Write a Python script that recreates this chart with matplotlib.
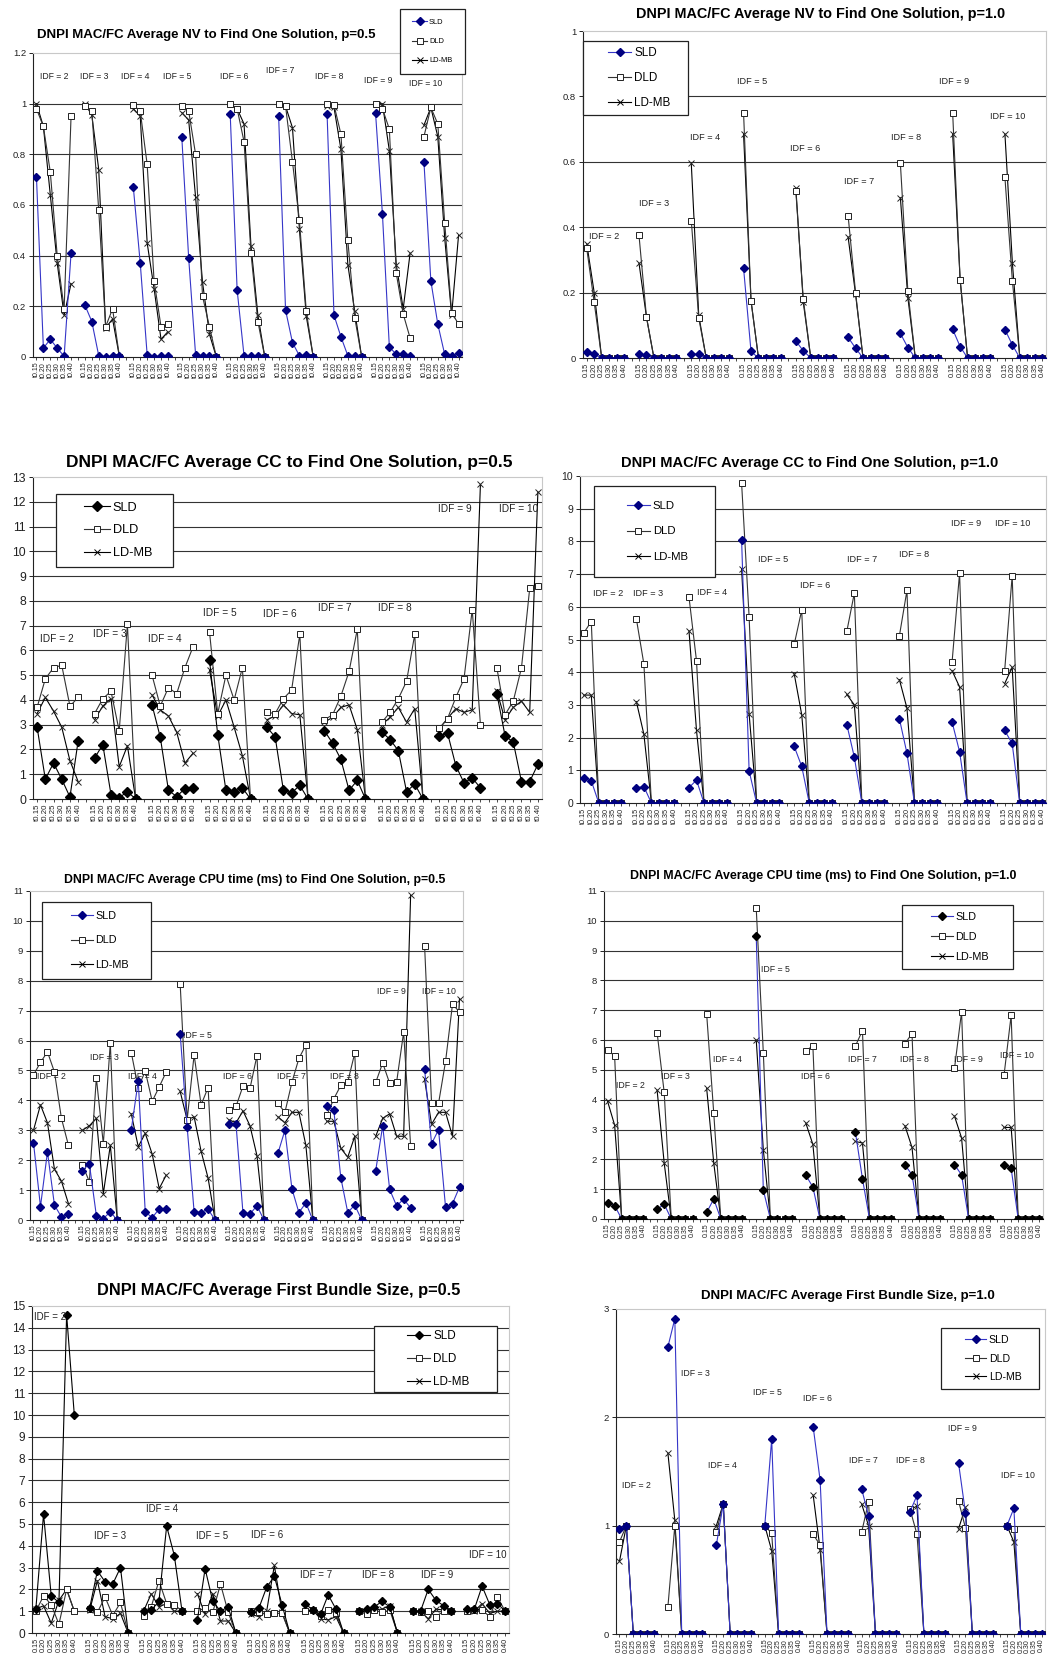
import numpy as np
import matplotlib
matplotlib.use('Agg')
import matplotlib.pyplot as plt
from matplotlib.patches import Rectangle
from matplotlib.lines import Line2D

plt.rcParams['font.family'] = ['Liberation Sans', 'DejaVu Sans']

W, H = 1048, 1655

thresholds = ['0.15', '0.20', '0.25', '0.30', '0.35', '0.40']
idf_names = ['IDF = 2', 'IDF = 3', 'IDF = 4', 'IDF = 5', 'IDF = 6',
             'IDF = 7', 'IDF = 8', 'IDF = 9', 'IDF = 10']
series_names = ['SLD', 'DLD', 'LD-MB']

# ---------------- NV, p=0.5 ----------------
nv05_sld = [[0.71, 0.035, 0.07, 0.035, 0.003, 0.41],
            [0.205, 0.14, 0.005, 0.0, 0.003, 0.003],
            [0.67, 0.37, 0.008, 0.0, 0.005, 0.005],
            [0.87, 0.39, 0.008, 0.005, 0.005, 0.0],
            [0.96, 0.265, 0.005, 0.005, 0.005, 0.0],
            [0.95, 0.185, 0.057, 0.005, 0.008, 0.0],
            [0.96, 0.165, 0.08, 0.005, 0.005, 0.0],
            [0.965, 0.565, 0.04, 0.01, 0.01, 0.005],
            [0.77, 0.30, 0.13, 0.01, 0.005, 0.015]]
nv05_dld = [[0.98, 0.91, 0.73, 0.40, 0.19, 0.95],
            [0.99, 0.97, 0.58, 0.12, 0.19, 0.0],
            [0.995, 0.97, 0.76, 0.30, 0.12, 0.13],
            [0.99, 0.97, 0.80, 0.24, 0.12, 0.0],
            [1.0, 0.98, 0.85, 0.41, 0.14, 0.0],
            [1.0, 0.99, 0.77, 0.54, 0.18, 0.0],
            [1.0, 0.995, 0.88, 0.46, 0.155, 0.0],
            [1.0, 0.98, 0.90, 0.33, 0.17, 0.075],
            [0.87, 0.985, 0.92, 0.53, 0.175, 0.13]]
nv05_ldmb = [[1.0, 0.91, 0.64, 0.37, 0.165, 0.29],
             [1.0, 0.955, 0.74, 0.115, 0.15, 0.0],
             [0.98, 0.95, 0.45, 0.27, 0.07, 0.10],
             [0.965, 0.935, 0.63, 0.295, 0.09, 0.0],
             [1.0, 0.98, 0.92, 0.44, 0.165, 0.0],
             [1.0, 0.99, 0.905, 0.505, 0.16, 0.0],
             [0.99, 0.985, 0.82, 0.365, 0.18, 0.0],
             [1.0, 1.0, 0.815, 0.365, 0.19, 0.41],
             [0.915, 0.985, 0.87, 0.47, 0.165, 0.48]]

# ---------------- NV, p=1.0 ----------------
nv10_sld = [[0.017, 0.012, 0, 0, 0, 0], [0.012, 0.008, 0, 0, 0, 0],
            [0.012, 0.012, 0, 0, 0, 0], [0.275, 0.02, 0, 0, 0, 0],
            [0.052, 0.022, 0, 0, 0, 0], [0.063, 0.03, 0, 0, 0, 0],
            [0.075, 0.032, 0, 0, 0, 0], [0.088, 0.035, 0, 0, 0, 0],
            [0.087, 0.04, 0, 0, 0, 0]]
nv10_dld = [[0.335, 0.17, 0, 0, 0, 0], [0.375, 0.125, 0, 0, 0, 0],
            [0.42, 0.122, 0, 0, 0, 0], [0.75, 0.175, 0, 0, 0, 0],
            [0.51, 0.18, 0, 0, 0, 0], [0.435, 0.2, 0, 0, 0, 0],
            [0.595, 0.205, 0, 0, 0, 0], [0.75, 0.24, 0, 0, 0, 0],
            [0.552, 0.235, 0, 0, 0, 0]]
nv10_ldmb = [[0.35, 0.20, 0, 0, 0, 0], [0.29, 0.125, 0, 0, 0, 0],
             [0.595, 0.13, 0, 0, 0, 0], [0.685, 0.175, 0, 0, 0, 0],
             [0.52, 0.17, 0, 0, 0, 0], [0.37, 0.195, 0, 0, 0, 0],
             [0.49, 0.185, 0, 0, 0, 0], [0.685, 0.24, 0, 0, 0, 0],
             [0.685, 0.29, 0, 0, 0, 0]]

# ---------------- CC, p=0.5 ----------------
cc05_sld = [[2.9, 0.8, 1.45, 0.8, 0.08, 2.35],
            [1.65, 2.2, 0.18, 0.05, 0.3, 0.0],
            [3.8, 2.5, 0.35, 0.1, 0.42, 0.45],
            [5.6, 2.6, 0.35, 0.3, 0.45, 0.0],
            [2.9, 2.5, 0.35, 0.25, 0.55, 0.0],
            [2.75, 2.25, 1.6, 0.35, 0.75, 0.0],
            [2.7, 2.4, 1.95, 0.3, 0.6, 0.0],
            [2.55, 2.65, 1.35, 0.65, 0.85, 0.45],
            [4.25, 2.55, 2.3, 0.7, 0.7, 1.4]]
cc05_dld = [[3.7, 4.85, 5.3, 5.4, 3.75, 4.1],
            [3.45, 4.05, 4.35, 2.75, 7.05, 0.0],
            [5.0, 3.75, 4.5, 4.25, 5.3, 6.15],
            [6.75, 3.45, 5.0, 4.0, 5.3, 0.0],
            [3.5, 3.45, 4.05, 4.4, 6.65, 0.0],
            [3.2, 3.4, 4.15, 5.15, 6.85, 0.0],
            [3.1, 3.5, 4.05, 4.75, 6.65, 0.0],
            [2.85, 3.25, 4.1, 4.85, 7.65, 3.0],
            [5.3, 3.4, 3.95, 5.3, 8.5, 8.6]]
cc05_ldmb = [[3.45, 4.1, 3.55, 2.9, 1.55, 0.7],
             [3.2, 3.75, 4.05, 1.3, 2.15, 0.0],
             [4.2, 3.6, 3.35, 2.7, 1.45, 1.85],
             [5.2, 3.35, 4.0, 2.9, 1.75, 0.0],
             [3.2, 3.35, 3.8, 3.45, 3.4, 0.0],
             [3.1, 3.3, 3.7, 3.8, 2.8, 0.0],
             [3.0, 3.3, 3.7, 3.1, 3.65, 0.0],
             [2.85, 3.25, 3.65, 3.5, 3.6, 12.7],
             [4.35, 3.2, 3.7, 3.95, 3.5, 12.4]]

# ---------------- CC, p=1.0 ----------------
cc10_sld = [[0.75, 0.68, 0, 0, 0, 0], [0.47, 0.5, 0, 0, 0, 0],
            [0.47, 0.7, 0, 0, 0, 0], [8.05, 0.98, 0, 0, 0, 0],
            [1.73, 1.12, 0, 0, 0, 0], [2.4, 1.4, 0, 0, 0, 0],
            [2.57, 1.52, 0, 0, 0, 0], [2.48, 1.57, 0, 0, 0, 0],
            [2.22, 1.82, 0, 0, 0, 0]]
cc10_dld = [[5.2, 5.55, 0, 0, 0, 0], [5.63, 4.25, 0, 0, 0, 0],
            [6.3, 4.35, 0, 0, 0, 0], [9.78, 5.7, 0, 0, 0, 0],
            [4.85, 5.9, 0, 0, 0, 0], [5.25, 6.42, 0, 0, 0, 0],
            [5.12, 6.5, 0, 0, 0, 0], [4.3, 7.03, 0, 0, 0, 0],
            [4.05, 6.95, 0, 0, 0, 0]]
cc10_ldmb = [[3.3, 3.3, 0, 0, 0, 0], [3.1, 2.1, 0, 0, 0, 0],
             [5.27, 2.22, 0, 0, 0, 0], [7.17, 2.72, 0, 0, 0, 0],
             [3.95, 2.7, 0, 0, 0, 0], [3.32, 3.0, 0, 0, 0, 0],
             [3.77, 2.9, 0, 0, 0, 0], [4.05, 3.55, 0, 0, 0, 0],
             [3.65, 4.15, 0, 0, 0, 0]]

# ---------------- CPU, p=0.5 ----------------
cpu05_sld = [[2.58, 0.45, 2.28, 0.5, 0.1, 0.2],
             [1.65, 1.88, 0.15, 0.05, 0.27, 0.0],
             [3.02, 4.65, 0.27, 0.08, 0.37, 0.38],
             [6.23, 3.12, 0.27, 0.25, 0.36, 0.0],
             [3.2, 3.2, 0.22, 0.2, 0.48, 0.0],
             [2.23, 3.0, 1.05, 0.25, 0.57, 0.0],
             [3.8, 3.68, 1.42, 0.25, 0.5, 0.0],
             [1.65, 3.15, 1.02, 0.47, 0.7, 0.4],
             [5.05, 2.55, 3.02, 0.43, 0.55, 1.1]]
cpu05_dld = [[4.85, 5.27, 5.62, 4.95, 3.4, 2.5],
             [1.85, 1.28, 4.75, 2.55, 5.92, 0.0],
             [5.6, 4.42, 4.98, 3.97, 4.45, 4.95],
             [7.9, 3.35, 5.52, 3.85, 4.43, 0.0],
             [3.68, 3.8, 4.48, 4.4, 5.5, 0.0],
             [3.9, 3.6, 4.6, 5.4, 5.85, 0.0],
             [3.5, 4.05, 4.5, 4.62, 5.58, 0.0],
             [4.6, 5.25, 4.57, 4.62, 6.28, 2.48],
             [9.17, 3.9, 3.9, 5.3, 7.22, 6.95]]
cpu05_ldmb = [[3.0, 3.85, 3.25, 1.7, 1.3, 0.55],
              [3.0, 3.15, 3.4, 0.88, 2.5, 0.0],
              [3.55, 2.45, 2.9, 2.2, 1.05, 1.5],
              [4.3, 3.35, 3.45, 2.3, 1.4, 0.0],
              [3.35, 3.25, 3.65, 3.15, 2.15, 0.0],
              [3.45, 3.25, 3.6, 3.6, 2.5, 0.0],
              [3.3, 3.3, 2.4, 2.1, 2.8, 0.0],
              [2.8, 3.4, 3.55, 2.8, 2.8, 10.85],
              [4.7, 3.2, 3.6, 3.6, 2.8, 7.4]]

# ---------------- CPU, p=1.0 ----------------
cpu10_sld = [[0.55, 0.45, 0, 0, 0, 0], [0.32, 0.5, 0, 0, 0, 0],
             [0.22, 0.67, 0, 0, 0, 0], [9.5, 0.97, 0, 0, 0, 0],
             [1.47, 1.07, 0, 0, 0, 0], [2.92, 1.35, 0, 0, 0, 0],
             [1.82, 1.48, 0, 0, 0, 0], [1.82, 1.48, 0, 0, 0, 0],
             [1.82, 1.7, 0, 0, 0, 0]]
cpu10_dld = [[5.67, 5.47, 0, 0, 0, 0], [6.25, 4.25, 0, 0, 0, 0],
             [6.87, 3.55, 0, 0, 0, 0], [10.42, 5.58, 0, 0, 0, 0],
             [5.65, 5.8, 0, 0, 0, 0], [5.8, 6.32, 0, 0, 0, 0],
             [5.88, 6.22, 0, 0, 0, 0], [5.05, 6.95, 0, 0, 0, 0],
             [4.83, 6.83, 0, 0, 0, 0]]
cpu10_ldmb = [[3.95, 3.15, 0, 0, 0, 0], [4.32, 1.88, 0, 0, 0, 0],
              [4.38, 1.88, 0, 0, 0, 0], [6.0, 2.32, 0, 0, 0, 0],
              [3.22, 2.5, 0, 0, 0, 0], [2.6, 2.55, 0, 0, 0, 0],
              [3.13, 2.4, 0, 0, 0, 0], [3.45, 2.72, 0, 0, 0, 0],
              [3.07, 3.07, 0, 0, 0, 0]]

# ---------------- First bundle size, p=0.5 ----------------
fb05_sld = [[1.1, 5.45, 1.7, 1.4, 14.6, 10.0],
            [1.15, 2.85, 2.35, 2.25, 3.0, 0.0],
            [1.0, 1.05, 1.45, 4.9, 3.55, 1.0],
            [0.6, 2.95, 1.45, 1.0, 1.2, 0.0],
            [0.95, 1.15, 2.1, 2.6, 1.3, 0.0],
            [1.35, 1.05, 0.85, 1.75, 1.1, 0.0],
            [1.0, 1.1, 1.2, 1.45, 1.2, 0.0],
            [1.0, 1.0, 2.0, 1.5, 1.25, 1.0],
            [1.1, 1.1, 2.15, 1.3, 1.35, 1.0]]
fb05_dld = [[1.0, 1.7, 1.3, 0.4, 2.0, 1.0],
            [1.1, 0.95, 1.65, 0.8, 1.4, 0.0],
            [0.8, 1.2, 2.4, 1.35, 1.3, 1.0],
            [1.0, 1.15, 0.95, 2.25, 0.95, 0.0],
            [1.0, 0.95, 0.85, 0.9, 0.9, 0.0],
            [1.0, 1.05, 0.8, 1.05, 0.9, 0.0],
            [1.0, 0.85, 1.05, 0.95, 1.05, 0.0],
            [1.0, 0.95, 1.0, 0.75, 1.0, 1.0],
            [1.0, 1.05, 1.05, 0.75, 1.65, 1.0]]
fb05_ldmb = [[1.1, 1.25, 0.45, 1.5, 2.0, 1.0],
             [1.05, 2.4, 0.75, 0.65, 0.9, 0.0],
             [1.0, 1.8, 1.2, 1.35, 1.0, 1.0],
             [1.8, 0.85, 1.8, 0.55, 0.55, 0.0],
             [0.85, 0.75, 1.0, 3.1, 0.95, 0.0],
             [1.0, 1.05, 0.65, 0.6, 0.75, 0.0],
             [1.0, 1.0, 1.05, 1.1, 1.25, 0.0],
             [1.0, 1.0, 0.65, 1.1, 1.05, 1.0],
             [1.0, 1.0, 1.35, 0.9, 1.0, 1.0]]

# ---------------- First bundle size, p=1.0 ----------------
fb10_sld = [[0.97, 1.0, 0, 0, 0, 0], [2.65, 2.91, 0, 0, 0, 0],
            [0.82, 1.2, 0, 0, 0, 0], [1.0, 1.8, 0, 0, 0, 0],
            [1.91, 1.42, 0, 0, 0, 0], [1.34, 1.09, 0, 0, 0, 0],
            [1.13, 1.28, 0, 0, 0, 0], [1.58, 1.12, 0, 0, 0, 0],
            [1.0, 1.16, 0, 0, 0, 0]]
fb10_dld = [[0.85, 1.0, 0, 0, 0, 0], [0.25, 1.0, 0, 0, 0, 0],
            [0.94, 1.2, 0, 0, 0, 0], [1.0, 0.93, 0, 0, 0, 0],
            [0.92, 0.82, 0, 0, 0, 0], [0.94, 1.22, 0, 0, 0, 0],
            [1.15, 0.92, 0, 0, 0, 0], [1.23, 0.98, 0, 0, 0, 0],
            [1.0, 0.97, 0, 0, 0, 0]]
fb10_ldmb = [[0.67, 1.0, 0, 0, 0, 0], [1.67, 1.05, 0, 0, 0, 0],
             [1.0, 1.2, 0, 0, 0, 0], [1.0, 0.77, 0, 0, 0, 0],
             [1.28, 0.78, 0, 0, 0, 0], [1.2, 1.0, 0, 0, 0, 0],
             [1.15, 1.18, 0, 0, 0, 0], [0.97, 1.17, 0, 0, 0, 0],
             [1.0, 0.85, 0, 0, 0, 0]]

# IDF annotation anchors (category index, value)
nv05_idf_x = [2.5, 8.4, 14.3, 20.4, 28.6, 35.2, 42.3, 49.4, 56.3]
nv05_idf_y = [1.108, 1.108, 1.108, 1.108, 1.108, 1.13, 1.108, 1.09, 1.078]
nv10_idf_x = [2.3, 9.0, 15.9, 22.2, 29.3, 36.5, 42.7, 49.2, 56.4]
nv10_idf_y = [0.373, 0.472, 0.674, 0.846, 0.642, 0.54, 0.674, 0.846, 0.739]
cc05_idf_x = [2.4, 8.9, 15.5, 22.2, 29.6, 36.3, 43.6, 50.9, 58.6]
cc05_idf_y = [6.47, 6.68, 6.46, 7.51, 7.48, 7.71, 7.71, 11.71, 11.71]
cc10_idf_x = [3.2, 8.5, 17.1, 25.2, 30.8, 37.0, 43.9, 50.9, 57.1]
cc10_idf_y = [6.42, 6.42, 6.45, 7.46, 6.66, 7.46, 7.6, 8.56, 8.56]
cpu05_idf_x = [2.6, 10.2, 15.6, 23.5, 29.2, 36.9, 44.5, 51.3, 58.0]
cpu05_idf_y = [4.81, 5.43, 4.81, 6.16, 4.81, 4.81, 4.81, 7.63, 7.63]
cpu10_idf_x = [3.2, 9.6, 17.0, 23.7, 29.3, 36.0, 43.3, 51.0, 57.8]
cpu10_idf_y = [4.48, 4.78, 5.34, 8.36, 4.78, 5.34, 5.34, 5.36, 5.5]
fb05_idf_x = [1.8, 9.6, 16.4, 22.9, 30.0, 36.4, 44.5, 52.2, 58.7]
fb05_idf_y = [14.5, 4.47, 5.68, 4.47, 4.5, 2.67, 2.67, 2.67, 3.59]
fb10_idf_x = [2.4, 11.0, 14.9, 21.4, 28.6, 35.2, 42.1, 49.6, 57.6]
fb10_idf_y = [1.37, 2.40, 1.56, 2.23, 2.17, 1.60, 1.60, 1.90, 1.46]


def expand(groups):
    vals = []
    for gi, g in enumerate(groups):
        if gi > 0:
            vals.append(np.nan)
        vals.extend(g)
    return np.array(vals, dtype=float)


def cat_labels(prefix):
    labs = []
    for gi in range(len(idf_names)):
        if gi > 0:
            labs.append('')
        labs.extend([prefix + t for t in thresholds])
    return labs


NAVY = '#000080'
BLUE_LINE = '#3535c8'

panels = [
    dict(title='DNPI MAC/FC Average NV to Find One Solution, p=0.5',
         data=(nv05_sld, nv05_dld, nv05_ldmb), idf=(nv05_idf_x, nv05_idf_y),
         box=(33, 462, 53, 357), ylim=1.2, yticks=np.arange(0, 1.21, 0.2), yfmt='{:g}',
         tcx=206, tcy=35, tfs=9.5, ytfs=6.8, xtfs=5.0, idffs=6.2, prefix='t',
         sld_mc=NAVY, sld_lc=BLUE_LINE, ms=4.2,
         leg=(400, 465, 9, 74), legpad=12, legfs=5.4, legls=1.6),
    dict(title='DNPI MAC/FC Average NV to Find One Solution, p=1.0',
         data=(nv10_sld, nv10_dld, nv10_ldmb), idf=(nv10_idf_x, nv10_idf_y),
         box=(583, 1046, 31, 358), ylim=1.0, yticks=np.arange(0, 1.01, 0.2), yfmt='{:g}',
         tcx=821, tcy=14, tfs=10.4, ytfs=6.8, xtfs=5.2, idffs=6.6, prefix='',
         sld_mc=NAVY, sld_lc=BLUE_LINE, ms=4.6,
         leg=(583, 688, 41, 115), legpad=25, legfs=8.4, legls=1.15),
    dict(title='DNPI MAC/FC Average CC to Find One Solution, p=0.5',
         data=(cc05_sld, cc05_dld, cc05_ldmb), idf=(cc05_idf_x, cc05_idf_y),
         box=(33, 542, 477, 799), ylim=13, yticks=np.arange(0, 14, 1), yfmt='{:g}',
         tcx=289, tcy=462, tfs=12.5, ytfs=8.8, xtfs=5.7, idffs=7.3, prefix='t',
         sld_mc='black', sld_lc='black', ms=5.0,
         leg=(56, 173, 494, 567), legpad=28, legfs=9.2, legls=0.85),
    dict(title='DNPI MAC/FC Average CC to Find One Solution, p=1.0',
         data=(cc10_sld, cc10_dld, cc10_ldmb), idf=(cc10_idf_x, cc10_idf_y),
         box=(580, 1046, 476, 803), ylim=10, yticks=np.arange(0, 11, 1), yfmt='{:g}',
         tcx=810, tcy=463, tfs=10.5, ytfs=7.5, xtfs=5.2, idffs=6.6, prefix='t',
         sld_mc=NAVY, sld_lc=BLUE_LINE, ms=4.8,
         leg=(594, 715, 486, 577), legpad=33, legfs=8.2, legls=1.4),
    dict(title='DNPI MAC/FC Average CPU time (ms) to Find One Solution, p=0.5',
         data=(cpu05_sld, cpu05_dld, cpu05_ldmb), idf=(cpu05_idf_x, cpu05_idf_y),
         box=(30, 463, 891, 1220), ylim=11, yticks=np.arange(0, 12, 1), yfmt='{:g}',
         tcx=255, tcy=880, tfs=8.8, ytfs=6.8, xtfs=5.0, idffs=6.3, prefix='t',
         sld_mc=NAVY, sld_lc=BLUE_LINE, ms=4.6,
         leg=(42, 151, 902, 979), legpad=29, legfs=7.8, legls=1.35),
    dict(title='DNPI MAC/FC Average CPU time (ms) to Find One Solution, p=1.0',
         data=(cpu10_sld, cpu10_dld, cpu10_ldmb), idf=(cpu10_idf_x, cpu10_idf_y),
         box=(604, 1043, 891, 1219), ylim=11, yticks=np.arange(0, 12, 1), yfmt='{:g}',
         tcx=823, tcy=876, tfs=8.9, ytfs=6.8, xtfs=5.0, idffs=6.3, prefix='',
         sld_mc='black', sld_lc=BLUE_LINE, ms=4.6,
         leg=(902, 1013, 905, 969), legpad=29, legfs=7.8, legls=0.9),
    dict(title='DNPI MAC/FC Average First Bundle Size, p=0.5',
         data=(fb05_sld, fb05_dld, fb05_ldmb), idf=(fb05_idf_x, fb05_idf_y),
         box=(32, 509, 1306, 1633), ylim=15, yticks=np.arange(0, 16, 1), yfmt='{:g}',
         tcx=279, tcy=1291, tfs=11.8, ytfs=8.6, xtfs=5.2, idffs=7.0, prefix='',
         sld_mc='black', sld_lc='black', ms=4.6,
         leg=(374, 497, 1326, 1392), legpad=33, legfs=8.4, legls=0.95),
    dict(title='DNPI MAC/FC Average First Bundle Size, p=1.0',
         data=(fb10_sld, fb10_dld, fb10_ldmb), idf=(fb10_idf_x, fb10_idf_y),
         box=(616, 1045, 1309, 1634), ylim=3, yticks=np.arange(0, 4, 1), yfmt='{:g}',
         tcx=848, tcy=1296, tfs=9.5, ytfs=6.8, xtfs=5.0, idffs=6.3, prefix='',
         sld_mc=NAVY, sld_lc=BLUE_LINE, ms=4.6,
         leg=(941, 1039, 1328, 1389), legpad=24, legfs=7.6, legls=0.8),
]

fig = plt.figure(figsize=(W / 100, H / 100), dpi=100)
fig.patch.set_facecolor('white')

for p in panels:
    L, R, T, B = p['box']
    ax = fig.add_axes([L / W, 1 - B / H, (R - L) / W, (B - T) / H])
    sld, dld, ldmb = [expand(d) for d in p['data']]
    x = np.arange(len(sld))
    ms = p['ms']
    ax.plot(x, ldmb, color='black', lw=0.8, marker='x', ms=ms, mew=0.7,
            mec='#222222', zorder=3)
    ax.plot(x, dld, color='#333333', lw=0.8, marker='s', ms=ms, mfc='white',
            mec='#222222', mew=0.7, zorder=4)
    ax.plot(x, sld, color=p['sld_lc'], lw=0.8, marker='D', ms=ms * 0.95,
            mfc=p['sld_mc'], mec=p['sld_mc'], zorder=5)

    ax.set_xlim(-0.5, len(sld) - 0.5)
    ax.set_ylim(0, p['ylim'])
    ax.set_yticks(p['yticks'])
    ax.set_yticklabels([p['yfmt'].format(round(v, 2)) for v in p['yticks']],
                       fontsize=p['ytfs'], color='#222222')
    ax.set_xticks(x)
    ax.set_xticklabels(cat_labels(p['prefix']), rotation=90,
                       fontsize=p['xtfs'], color='#222222')
    ax.tick_params(axis='x', length=2, width=0.5, pad=1.5)
    ax.tick_params(axis='y', length=3, width=0.6, pad=2)
    for yv in p['yticks'][1:]:
        if yv < p['ylim'] - 1e-9:
            ax.axhline(yv, color='#333333', lw=0.8, zorder=1)
    for s in ['left', 'bottom']:
        ax.spines[s].set_color('#222222')
        ax.spines[s].set_linewidth(0.8)
    for s in ['top', 'right']:
        ax.spines[s].set_color('#c8c8c8')
        ax.spines[s].set_linewidth(0.8)

    ix, iy = p['idf']
    for name, tx, ty in zip(idf_names, ix, iy):
        ax.text(tx, ty, name, fontsize=p['idffs'], ha='center', va='center',
                color='#222222', zorder=6)

    fig.text(p['tcx'] / W, 1 - p['tcy'] / H, p['title'], ha='center',
             va='center', fontsize=p['tfs'], fontweight='bold', color='black')

    # legend box
    l0, l1, t0, b0 = p['leg']
    rect = Rectangle((l0 / W, 1 - b0 / H), (l1 - l0) / W, (b0 - t0) / H,
                     transform=fig.transFigure, facecolor='white',
                     edgecolor='#222222', lw=0.9, zorder=10)
    fig.patches.append(rect)
    handles = [
        Line2D([0], [0], color=p['sld_lc'], lw=0.8, marker='D', ms=ms * 0.95,
               mfc=p['sld_mc'], mec=p['sld_mc']),
        Line2D([0], [0], color='#333333', lw=0.8, marker='s', ms=ms,
               mfc='white', mec='#222222', mew=0.7),
        Line2D([0], [0], color='black', lw=0.8, marker='x', ms=ms, mew=0.7),
    ]
    lg = fig.legend(handles, series_names, loc='center left',
                    bbox_to_anchor=((l0 + p['legpad']) / W, 1 - (t0 + b0) / 2 / H),
                    frameon=False, fontsize=p['legfs'], labelspacing=p['legls'],
                    handlelength=2.0, handletextpad=0.25, borderpad=0,
                    borderaxespad=0)
    lg.set_zorder(11)

fig.savefig('out.png', dpi=100, facecolor='white')
